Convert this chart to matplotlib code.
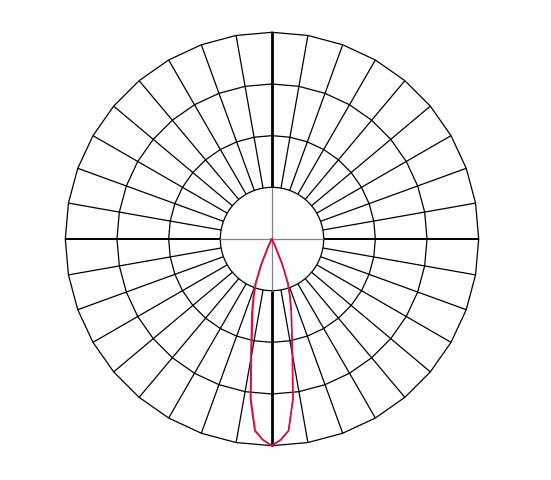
import numpy as np
import matplotlib
matplotlib.use("Agg")
import matplotlib.pyplot as plt

# gamma angles (deg from nadir) and relative intensity
gamma = [0, 2.5, 5, 7.5, 10, 12.5, 15, 17.5, 20, 22.5, 25, 27.5, 30, 40, 50, 60, 70, 80, 90]
c0_c180 = [1.00, 0.973, 0.93, 0.78, 0.57, 0.44, 0.36, 0.29, 0.225, 0.13, 0.04, 0.01, 0.0,
           0.0, 0.0, 0.0, 0.0, 0.0, 0.0]
c90_c270 = [1.00, 0.973, 0.932, 0.785, 0.58, 0.45, 0.37, 0.295, 0.23, 0.135, 0.045, 0.01, 0.0,
            0.0, 0.0, 0.0, 0.0, 0.0, 0.0]

rings = [0.5, 0.75, 1.0]
inner = 0.25
spoke_step = 10

scale = 206.7
cx, cy = 272, 240
W, H = 551, 481

fig = plt.figure(figsize=(W / 100, H / 100), dpi=100)
ax = fig.add_axes([0, 0, 1, 1])
ax.set_xlim(-cx / scale, (W - cx) / scale)
ax.set_ylim(-(H - cy) / scale, cy / scale)
ax.set_aspect("equal")
ax.axis("off")

# spokes
ang = np.deg2rad(np.arange(0, 360, spoke_step))
for a in ang:
    if np.isclose(np.rad2deg(a) % 90, 0):
        continue
    ax.plot([inner * np.sin(a), np.sin(a)], [inner * np.cos(a), np.cos(a)],
            color="black", lw=0.9, solid_capstyle="butt")

# polygon rings
closed = np.append(ang, ang[0])
for r in rings:
    ax.plot(r * np.sin(closed), r * np.cos(closed), color="black", lw=0.9)

# inner circle
t = np.linspace(0, 2 * np.pi, 200)
ax.plot(inner * np.sin(t), inner * np.cos(t), color="black", lw=0.9)

# main axes
ax.plot([-inner, inner], [0, 0], color="gray", lw=0.9)
ax.plot([0, 0], [-inner, inner], color="gray", lw=0.9)
for s in (-1, 1):
    ax.plot([s * inner, s * 1.0], [0, 0], color="black", lw=1.4, solid_capstyle="butt")
    ax.plot([0, 0], [s * inner, s * 1.0], color="black", lw=2.0, solid_capstyle="butt")


def curve(vals):
    g = np.deg2rad(np.array(gamma))
    v = np.array(vals)
    gg = np.concatenate([-g[::-1], g[1:]])
    vv = np.concatenate([v[::-1], v[1:]])
    return vv * np.sin(gg), -vv * np.cos(gg)


x2, y2 = curve(c90_c270)
ax.plot(x2 - 0.002, y2, color="#a0307a", lw=1.1)
x1, y1 = curve(c0_c180)
ax.plot(x1, y1, color="#f00030", lw=1.0)

fig.savefig("out.png", dpi=100)
